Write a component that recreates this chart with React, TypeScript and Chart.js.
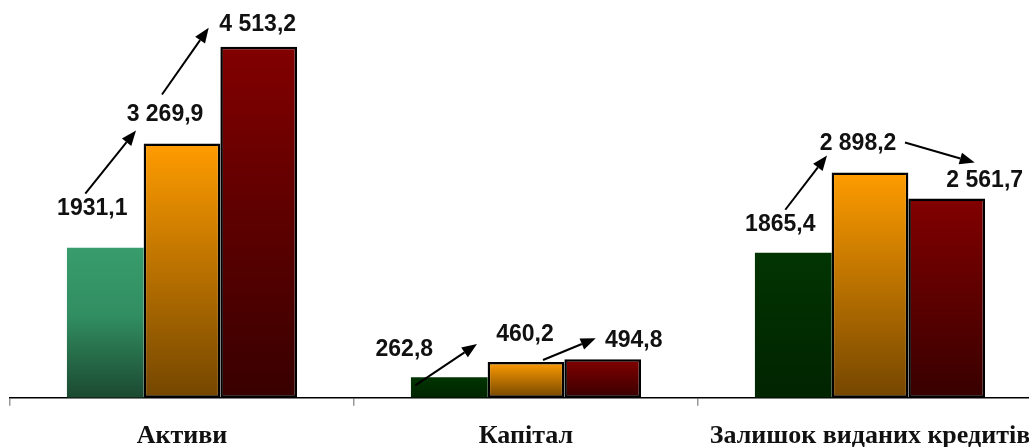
import { useEffect, useRef } from "react";
import { Chart, registerables } from "chart.js";

Chart.register(...registerables);

// Categories and the three series (млн грн)
const categories = ["Активи", "Капітал", "Залишок виданих кредитів"];
const seriesFirst = [1931.1, 262.8, 1865.4];
const seriesSecond = [3269.9, 460.2, 2898.2];
const seriesThird = [4513.2, 494.8, 2561.7];
// Whether a series prints its values with a thousands space
const groupThousands = [false, true, true];

const yMax = 5000;

// Label centre offsets from each bar's top-centre: [series][category] -> [dx, dy]
const labelOffsets: [number, number][][] = [
  [[-13, -39], [-45, -28], [-13, -28]],
  [[-17, -29], [-1, -27], [-12, -29]],
  [[-1, -22], [31, -19], [38, -18]],
];

// Arrows between consecutive bars of a category:
// [category, fromSeries, fromOffset, toOffset] (offsets from the bar top-centres)
const arrows: [number, number, [number, number], [number, number]][] = [
  [0, 0, [-20, -54], [-46, -13]],
  [0, 1, [-20, -49], [-50, -19]],
  [1, 0, [-34, 8], [-49, -18]],
  [1, 1, [17, -2], [-7, -21]],
  [2, 0, [-8, -43], [-43, -17]],
  [2, 1, [35, -30], [28, -36]],
];

function formatValue(v: number, group: boolean): string {
  const [intPart, frac] = v.toFixed(1).split(".");
  const intText = group ? intPart.replace(/\B(?=(\d{3})+(?!\d))/g, " ") : intPart;
  return `${intText},${frac}`;
}

function barGradient(ctx: any, stops: [number, string][]) {
  const chart = ctx.chart;
  const yScale = chart.scales?.y;
  if (!yScale || ctx.raw == null) return stops[0][1];
  const top = yScale.getPixelForValue(ctx.raw);
  const base = yScale.getPixelForValue(0);
  if (!isFinite(top) || !isFinite(base) || top === base) return stops[0][1];
  const g = chart.ctx.createLinearGradient(0, top, 0, base);
  stops.forEach(([p, c]) => g.addColorStop(p, c));
  return g;
}

const annotatePlugin = {
  id: "valueAnnotations",
  afterDatasetsDraw(chart: any) {
    const ctx = chart.ctx as CanvasRenderingContext2D;
    const topOf = (ds: number, i: number) => {
      const el = chart.getDatasetMeta(ds).data[i];
      return { x: el.x, y: el.y };
    };
    ctx.save();
    // arrows
    ctx.strokeStyle = "#000";
    ctx.fillStyle = "#000";
    ctx.lineWidth = 2;
    arrows.forEach(([cat, from, o1, o2]) => {
      const a = topOf(from, cat);
      const b = topOf(from + 1, cat);
      const x1 = a.x + o1[0];
      const y1 = a.y + o1[1];
      const x2 = b.x + o2[0];
      const y2 = b.y + o2[1];
      const ang = Math.atan2(y2 - y1, x2 - x1);
      const headLen = 15;
      const headW = 6;
      const bx = x2 - headLen * Math.cos(ang);
      const by = y2 - headLen * Math.sin(ang);
      ctx.beginPath();
      ctx.moveTo(x1, y1);
      ctx.lineTo(bx, by);
      ctx.stroke();
      ctx.beginPath();
      ctx.moveTo(x2, y2);
      ctx.lineTo(bx + headW * Math.sin(ang), by - headW * Math.cos(ang));
      ctx.lineTo(bx - headW * Math.sin(ang), by + headW * Math.cos(ang));
      ctx.closePath();
      ctx.fill();
    });
    // value labels
    ctx.font = "bold 23px 'Liberation Sans', Arial, sans-serif";
    ctx.textAlign = "center";
    ctx.textBaseline = "middle";
    ctx.fillStyle = "#111";
    chart.data.datasets.forEach((ds: any, d: number) => {
      ds.data.forEach((v: number, i: number) => {
        const p = topOf(d, i);
        const [dx, dy] = labelOffsets[d][i];
        ctx.fillText(formatValue(v, groupThousands[d]), p.x + dx, p.y + dy);
      });
    });
    ctx.restore();
  },
};

export default function App() {
  const canvasRef = useRef<HTMLCanvasElement>(null);

  useEffect(() => {
    if (!canvasRef.current) return;
    const chart = new Chart(canvasRef.current, {
      type: "bar",
      data: {
        labels: categories,
        datasets: [
          {
            data: seriesFirst,
            backgroundColor: (ctx: any) =>
              ctx.dataIndex === 0
                ? barGradient(ctx, [[0, "#389C6C"], [0.45, "#318E62"], [1, "#1B4930"]])
                : barGradient(ctx, [[0, "#023402"], [1, "#012401"]]),
            borderWidth: 0,
          },
          {
            data: seriesSecond,
            backgroundColor: (ctx: any) => barGradient(ctx, [[0, "#FF9C00"], [1, "#744600"]]),
            borderColor: "#000",
            borderWidth: 2.5,
            borderSkipped: false,
          },
          {
            data: seriesThird,
            backgroundColor: (ctx: any) => barGradient(ctx, [[0, "#820000"], [1, "#380000"]]),
            borderColor: "#000",
            borderWidth: 2.5,
            borderSkipped: false,
          },
        ],
      },
      options: {
        responsive: false,
        animation: false,
        layout: { padding: { top: 9, left: 10, right: 8, bottom: 0 } },
        datasets: {
          bar: { barPercentage: 1, categoryPercentage: 0.669 },
        },
        plugins: {
          legend: { display: false },
          tooltip: { enabled: false },
        },
        scales: {
          x: {
            grid: {
              offset: true,
              drawOnChartArea: false,
              drawTicks: true,
              tickLength: 8,
              color: "#999",
              lineWidth: 1.5,
            },
            border: { display: true, color: "#000", width: 1.5 },
            ticks: {
              color: "#111",
              font: { family: "'Liberation Serif', 'Times New Roman', serif", size: 26, weight: "bold" },
              padding: 15,
              maxRotation: 0,
              minRotation: 0,
              autoSkip: false,
            },
          },
          y: {
            display: false,
            min: 0,
            max: yMax,
          },
        },
      },
      plugins: [annotatePlugin],
    });
    return () => chart.destroy();
  }, []);

  return (
    <div
      style={{
        position: "fixed",
        left: 0,
        top: 0,
        width: 1029,
        height: 447,
        overflow: "hidden",
        background: "#fff",
      }}
    >
      <canvas ref={canvasRef} width={1050} height={467} style={{ display: "block" }} />
    </div>
  );
}
